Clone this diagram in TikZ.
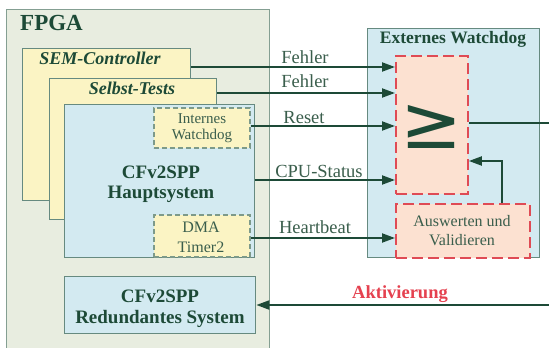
\documentclass[tikz,border=0pt]{standalone}
\usepackage{fontspec}
\setmainfont{Liberation Serif}
\newfontfamily\symfont{DejaVu Sans}
\usetikzlibrary{arrows.meta,calc}
\definecolor{fpgafill}{HTML}{E8EDE0}
\definecolor{fpgaline}{HTML}{849F92}
\definecolor{yel}{HTML}{FBF4C4}
\definecolor{blu}{HTML}{D3EAF1}
\definecolor{sal}{HTML}{FCE1D1}
\definecolor{redd}{HTML}{DF4B55}
\definecolor{dg}{HTML}{1D4A37}
\definecolor{lg}{HTML}{3A5E4C}
\definecolor{boxline}{HTML}{668A80}
\definecolor{dashg}{HTML}{7D9A8A}
\definecolor{akt}{HTML}{E5414F}
\tikzset{
  blk/.style={draw=boxline, line width=1.3pt, inner sep=0pt, anchor=north west},
  dbox/.style={blk, draw=dashg, line width=1.5pt, dash pattern=on 5pt off 3pt, fill=yel},
  rbox/.style={blk, draw=redd, line width=1.8pt, dash pattern=on 11pt off 5pt, fill=sal},
  arr/.style={draw=dg, line width=2pt, -{Triangle[length=13pt,width=9pt]}},
  lbl/.style={text=lg, anchor=base, inner sep=0pt, font=\fontsize{18.5}{18.5}\selectfont},
  ttl/.style={text=dg, anchor=base, inner sep=0pt, align=center},
}
\begin{document}
\begin{tikzpicture}[x=1pt,y=-1pt]
\useasboundingbox (0,0) rectangle (549,348);
\fill[white] (0,0) rectangle (549,348);
\begin{scope}
\clip (0,0) rectangle (549,348);
\node[blk, draw=fpgaline, fill=fpgafill, minimum width=263pt, minimum height=360pt] (fpga) at (6,9) {};
\node[blk, fill=yel, minimum width=168pt, minimum height=152pt] (sem) at (22,48) {};
\node[blk, fill=yel, minimum width=167pt, minimum height=141pt] (selbst) at (49,78) {};
\node[blk, fill=blu, minimum width=190pt, minimum height=153pt] (haupt) at (64,104) {};
\node[dbox, minimum width=96pt, minimum height=40pt] (iw) at (153,107) {};
\node[dbox, minimum width=96pt, minimum height=42pt] (dma) at (153,214) {};
\node[blk, fill=blu, minimum width=191pt, minimum height=57pt] (red) at (64,276) {};
\node[blk, fill=blu, minimum width=172pt, minimum height=229pt] (ext) at (367,28) {};
\node[rbox, minimum width=72pt, minimum height=138pt] (ge) at (395,55) {};
\node[rbox, minimum width=134pt, minimum height=54pt] (av) at (395,203) {};

% titles (base = baseline of the last line)
\node[ttl, anchor=base west, font=\fontsize{23}{23}\selectfont\bfseries] (tfpga) at (20,30) {FPGA};
\node[ttl, font=\fontsize{18}{18}\selectfont\bfseries\itshape] (tsem) at (100,64) {SEM-Controller};
\node[ttl, font=\fontsize{18}{18}\selectfont\bfseries\itshape] (tselbst) at (132,94) {Selbst-Tests};
\node[ttl, text=lg, font=\fontsize{15}{15.5}\selectfont] (tiw) at (202,139) {Internes\\Watchdog};
\node[ttl, font=\fontsize{19}{20}\selectfont\bfseries] (thaupt) at (161,198) {CFv2SPP\\Hauptsystem};
\node[ttl, text=lg, font=\fontsize{16}{20}\selectfont] (tdma) at (201,252) {DMA\\Timer2};
\node[ttl, font=\fontsize{19}{21}\selectfont\bfseries] (tred) at (160,323) {CFv2SPP\\Redundantes System};
\node[ttl, font=\fontsize{17.5}{17.5}\selectfont\bfseries] (text) at (453,43) {Externes Watchdog};
\node[ttl, text=lg, font=\fontsize{16}{19}\selectfont] (tav) at (462,245) {Auswerten und\\Validieren};
\node[text=dg, inner sep=0pt, font=\symfont\fontsize{74}{74}\selectfont] (tge) at (431,127) {≥};

% connector heights
\coordinate (y1) at (0,67);
\coordinate (y2) at (0,93);
\coordinate (y3) at (0,126);
\coordinate (y4) at (0,180);
\coordinate (y5) at (0,238);
\coordinate (outR) at (552,123);
\coordinate (aktR) at (552,305);
\coordinate (fb) at (502,161);

\draw[arr] (sem.east |- y1) -- (ge.west |- y1);
\draw[arr] (selbst.east |- y2) -- (ge.west |- y2);
\draw[arr] (iw.east |- y3) -- (ge.west |- y3);
\draw[arr] (haupt.east |- y4) -- (ge.west |- y4);
\draw[arr] (dma.east |- y5) -- (av.west |- y5);
\draw[draw=dg, line width=2pt] (ge.east |- outR) -- (outR);
\draw[arr] (av.north -| fb) |- (ge.east |- fb);
\draw[arr] (aktR) -- (red.east |- aktR);

\node[lbl] (lf1) at (305,63) {Fehler};
\node[lbl] (lf2) at (305,87) {Fehler};
\node[lbl] (lres) at (304,123) {Reset};
\node[lbl] (lcpu) at (319,177) {CPU-Status};
\node[lbl] (lhb) at (315,233) {Heartbeat};
\node[lbl, text=akt, font=\fontsize{18.5}{18.5}\selectfont\bfseries] (lakt) at (400,298) {Aktivierung};
\end{scope}
\end{tikzpicture}
\end{document}
